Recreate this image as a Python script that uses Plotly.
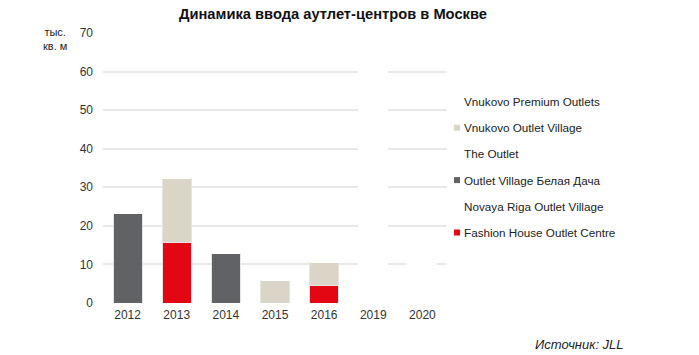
import plotly.graph_objects as go

years = ["2012", "2013", "2014", "2015", "2016", "2019", "2020"]

# series, bottom of stack first
fashion_house = [0, 15.6, 0, 0, 4.5, 0, 0]
novaya_riga = [0, 0, 0, 0, 0, 30, 0]
belaya_dacha = [23.3, 0, 12.8, 0, 0, 0, 0]
the_outlet = [0, 0, 0, 0, 0, 35, 0]
vnukovo_ov = [0, 16.6, 0, 5.8, 6.0, 0, 0]
vnukovo_po = [0, 0, 0, 0, 0, 0, 15]

series_names = ["Fashion House Outlet Centre", "Novaya Riga Outlet Village",
                "Outlet Village Белая Дача", "The Outlet",
                "Vnukovo Outlet Village", "Vnukovo Premium Outlets"]
series_values = [fashion_house, novaya_riga, belaya_dacha, the_outlet, vnukovo_ov, vnukovo_po]
series_colors = ["#e30613", "#ffffff", "#616266", "#ffffff", "#dbd5c7", "#ffffff"]

y_ticks = [0, 10, 20, 30, 40, 50, 60, 70]

# page has an 8px body margin: figure is drawn at (8,8) in the window
W, H = 691, 347
L, T, R, B = 95, 25, 252, 52          # plot area in figure px
PW, PH = W - L - R, H - T - B          # 344 x 270
OFF = 8

def px_x(xp):  # picture x -> paper x
    return (xp - OFF - L) / PW

def px_y(yp):  # picture y -> paper y
    return (H - B - (yp - OFF)) / PH

fig = go.Figure()
for name, vals, col in zip(series_names, series_values, series_colors):
    edge = "#ffffff" if col == "#ffffff" else "#e4e4e4"
    fig.add_trace(go.Bar(
        x=years, y=vals, name=name, showlegend=False,
        marker=dict(color=col, line=dict(color=edge, width=1)),
        hoverinfo="skip",
    ))

annotations = [
    dict(text="<b>Динамика ввода аутлет-центров в Москве</b>",
         xref="paper", yref="paper", x=px_x(333), y=px_y(13.5),
         xanchor="center", yanchor="middle", showarrow=False,
         font=dict(size=14.7, color="#111111")),
    dict(text="тыс.<br>кв. м", xref="paper", yref="paper",
         x=px_x(55), y=px_y(39), xanchor="center", yanchor="middle",
         showarrow=False, align="center", font=dict(size=11, color="#222222")),
    dict(text="<i>Источник: JLL</i>", xref="paper", yref="paper",
         x=px_x(626), y=px_y(344), xanchor="right", yanchor="middle",
         showarrow=False, font=dict(size=13, color="#222222")),
]
shapes = []
# legend (top entry = last series)
for i, (name, col) in enumerate(zip(reversed(series_names), reversed(series_colors))):
    yc = 101.5 + i * 26.2
    annotations.append(dict(
        text=name, xref="paper", yref="paper", x=px_x(462), y=px_y(yc),
        xanchor="left", yanchor="middle", showarrow=False,
        font=dict(size=11.7, color="#222222")))
    shapes.append(dict(
        type="rect", xref="paper", yref="paper",
        x0=px_x(454), x1=px_x(460), y0=px_y(yc + 3), y1=px_y(yc - 3),
        fillcolor=col, line=dict(width=0)))

fig.update_layout(
    width=W, height=H,
    margin=dict(l=L, r=R, t=T, b=B),
    barmode="stack", bargap=0.41,
    paper_bgcolor="white", plot_bgcolor="white",
    font=dict(family="Liberation Sans, Arial, sans-serif", size=11, color="#333333"),
    showlegend=False,
    xaxis=dict(
        type="category", showgrid=False, zeroline=False, showline=False,
        ticks="", tickfont=dict(size=12, color="#333333"), ticklabelstandoff=3,
    ),
    yaxis=dict(
        range=[0, 70], tickvals=y_ticks, showgrid=True, gridcolor="#e8e8e8",
        gridwidth=1.5, zeroline=False, showline=False, ticks="",
        tickfont=dict(size=12, color="#333333"), ticklabelstandoff=9,
    ),
    annotations=annotations,
    shapes=shapes,
)

fig.write_html("out.html")
